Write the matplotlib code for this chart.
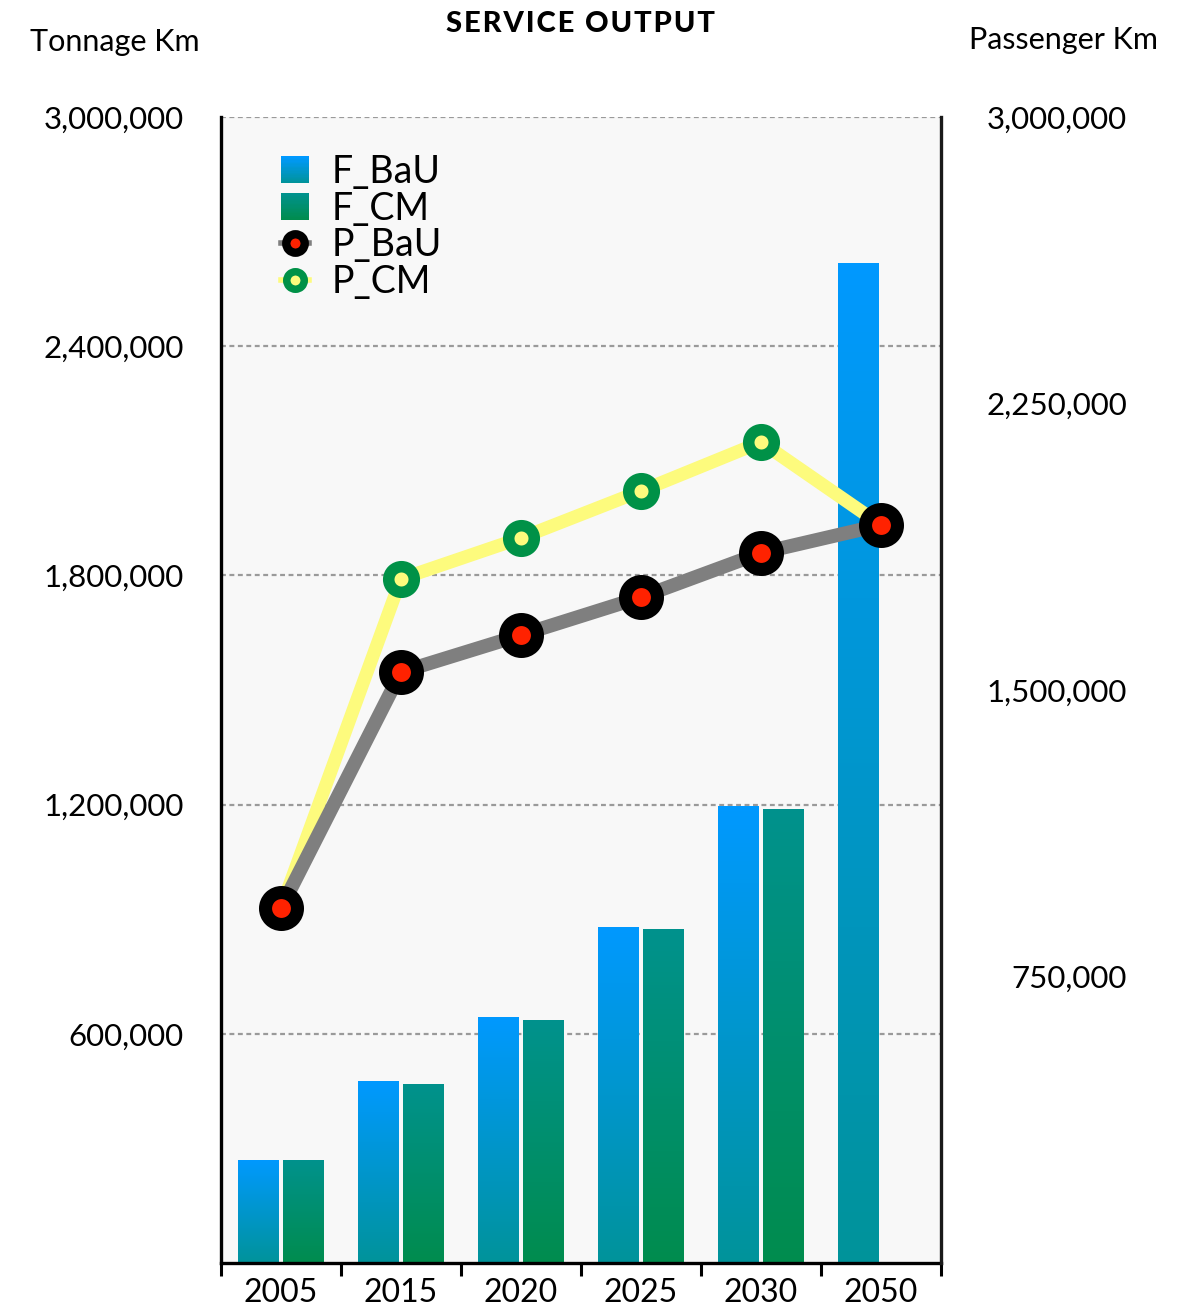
import numpy as np
import matplotlib
matplotlib.use('Agg')
import matplotlib.pyplot as plt
from matplotlib.colors import LinearSegmentedColormap, to_rgb
from matplotlib.patches import Rectangle, Patch
from matplotlib.lines import Line2D
from matplotlib.legend_handler import HandlerBase
from matplotlib.ticker import FuncFormatter

plt.rcParams['font.family'] = ['Lato', 'DejaVu Sans']

# Service output data
years = ['2005', '2015', '2020', '2025', '2030', '2050']
f_bau = [270000, 476000, 644000, 880000, 1196000, 2618000]
f_cm = [270000, 469000, 636000, 874000, 1188000, np.nan]
p_bau = [929000, 1547000, 1644000, 1743000, 1859000, 1932000]
p_cm = [929000, 1791000, 1898000, 2021000, 2149000, 1932000]

left_ticks = [600000, 1200000, 1800000, 2400000, 3000000]
right_ticks = [750000, 1500000, 2250000, 3000000]

BAU_TOP, BAU_BOT = '#0099ff', '#00939a'
CM_TOP, CM_BOT = '#00928d', '#008c4e'


def mix(c1, c2, t):
    a, b = np.array(to_rgb(c1)), np.array(to_rgb(c2))
    return tuple(a + (b - a) * t)


class GradientHandler(HandlerBase):
    def __init__(self, top, bot):
        super().__init__()
        self.top, self.bot = top, bot

    def create_artists(self, legend, orig_handle, xdescent, ydescent,
                       width, height, fontsize, trans):
        n = 20
        out = []
        for i in range(n):
            y = -ydescent + height * (1 - (i + 1) / n)
            out.append(Rectangle((-xdescent, y), width, height / n * 1.05,
                                 facecolor=mix(self.top, self.bot, i / (n - 1)),
                                 edgecolor='none', transform=trans))
        return out


fig = plt.figure(figsize=(11.84, 13.07), dpi=100)
ax = fig.add_axes([221 / 1184, 1 - 1263 / 1307, 720 / 1184, 1146 / 1307])
ax.set_facecolor('#f8f8f8')

x = np.arange(len(years))
w = 0.34
off = 0.19


def gradient_bars(xpos, vals, top, bot):
    cmap = LinearSegmentedColormap.from_list('g', [bot, top])
    grad = np.linspace(0, 1, 256).reshape(-1, 1)
    bars = ax.bar(xpos, np.nan_to_num(vals), w, color='none', edgecolor='none', zorder=2)
    for b in bars:
        if b.get_height() <= 0:
            continue
        img = ax.imshow(grad, cmap=cmap, origin='lower', aspect='auto', zorder=2,
                        extent=[b.get_x(), b.get_x() + b.get_width(), 0, b.get_height()])
        img.set_clip_path(b)


gradient_bars(x - off, f_bau, BAU_TOP, BAU_BOT)
gradient_bars(x + off, f_cm, CM_TOP, CM_BOT)

fmt = FuncFormatter(lambda v, p: f'{int(v):,}')

ax.set_xlim(-0.5, len(years) - 0.5)
ax.set_ylim(0, 3000000)
ax.set_yticks(left_ticks)
ax.yaxis.set_major_formatter(fmt)
ax.tick_params(axis='y', length=0, pad=27, labelsize=22.5)
ax.yaxis.grid(True, linestyle=(0, (2.2, 1.6)), color='#9a9a9a', lw=1.6, zorder=1)
ax.set_axisbelow(True)

ax.set_xticks(np.arange(-0.5, len(years), 1))
ax.set_xticklabels([])
ax.set_xticks(x, minor=True)
ax.set_xticklabels(years, minor=True)
ax.tick_params(axis='x', which='major', length=9, width=2.2, direction='out', color='black')
ax.tick_params(axis='x', which='minor', length=0, pad=11, labelsize=23)

for s in ['top', 'right']:
    ax.spines[s].set_visible(False)
for s in ['left', 'bottom']:
    ax.spines[s].set_linewidth(2.4)

ax2 = ax.twinx()
ax2.set_ylim(0, 3000000)
ax2.set_yticks(right_ticks)
ax2.yaxis.set_major_formatter(fmt)
ax2.tick_params(axis='y', length=0, pad=134, labelsize=22.5)
for lbl in ax2.get_yticklabels():
    lbl.set_horizontalalignment('right')
for s in ['top', 'left', 'bottom']:
    ax2.spines[s].set_visible(False)
ax2.spines['right'].set_linewidth(2.4)
ax2.spines['right'].set_color('#1a1a1a')

ax2.plot(x, p_cm, color='#fdfb7d', lw=9.5, zorder=2, solid_capstyle='round',
         marker='o', ms=18.4, mew=8.3, mec='#009147', mfc='#fdfb7d')
ax2.plot(x, p_bau, color='#7f7f7f', lw=10, zorder=3, solid_capstyle='round',
         marker='o', ms=23, mew=9.4, mec='black', mfc='#ff2200')

h_fbau = Patch(label='F_BaU')
h_fcm = Patch(label='F_CM')
h_pbau = Line2D([], [], color='#7f7f7f', lw=4, marker='o', ms=13.3, mew=6,
                mec='black', mfc='#ff2200', label='P_BaU')
h_pcm = Line2D([], [], color='#fdfb7d', lw=4, marker='o', ms=12.6, mew=5.4,
               mec='#009147', mfc='#fdfb7d', label='P_CM')
ax2.legend(handles=[h_fbau, h_fcm, h_pbau, h_pcm],
           handler_map={h_fbau: GradientHandler(BAU_TOP, BAU_BOT),
                        h_fcm: GradientHandler(CM_TOP, CM_BOT)},
           loc='upper left', bbox_to_anchor=(281 / 1184, 1 - 154 / 1307),
           bbox_transform=fig.transFigure, frameon=False, fontsize=27,
           handlelength=0.74, handleheight=0.72, handletextpad=0.62,
           labelspacing=0.02, borderpad=0, borderaxespad=0)

fig.text(30 / 1184, 1 - 42 / 1307, 'Tonnage Km', ha='left', va='center', fontsize=22)
fig.text(1158 / 1184, 1 - 40 / 1307, 'Passenger Km', ha='right', va='center', fontsize=22)
fig.text(580 / 1184, 1 - 24 / 1307, '\u200a'.join('SERVICE OUTPUT'), ha='center',
         va='center', fontsize=21, fontweight='black')

fig.savefig('out.png', dpi=100)
